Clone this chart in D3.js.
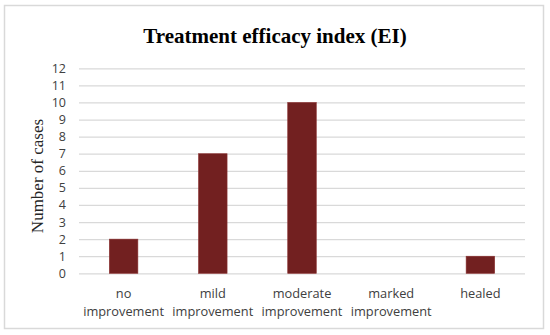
<!DOCTYPE html>
<html>
<head>
<meta charset="utf-8">
<script src="https://cdn.jsdelivr.net/npm/d3@7"></script>
<style>
  body { margin: 0; background: #fff; }
</style>
</head>
<body>
<div class="chart"></div>
<script>
// chart data
var categories = [["no", "improvement"], ["mild", "improvement"], ["moderate", "improvement"], ["marked", "improvement"], ["healed"]];
var cases = [2, 7, 10, 0, 1];
var yTicks = [0, 1, 2, 3, 4, 5, 6, 7, 8, 9, 10, 11, 12];

var width = 550;
var height = 335;
var plotLeft = 79, plotRight = 525, plotTop = 68.3, plotBottom = 273.3;

var svg = d3.select(".chart")
            .append("svg")
            .attr("width", width)
            .attr("height", height);

// outer frame
svg.append("rect")
   .attr("x", 4.5).attr("y", 5.5)
   .attr("width", 539).attr("height", 323)
   .attr("fill", "#fff")
   .attr("stroke", "#d9d9d9")
   .attr("stroke-width", 1.5);

var xScale = d3.scaleBand()
               .domain(d3.range(categories.length))
               .range([plotLeft, plotRight])
               .paddingInner(0.68)
               .paddingOuter(0.34);

var yScale = d3.scaleLinear()
               .domain([0, 12])
               .range([plotBottom, plotTop]);

// gridlines
svg.append("g")
   .attr("class", "grid")
   .attr("transform", "translate(" + plotLeft + ",0)")
   .call(d3.axisLeft(yScale).tickValues(yTicks).tickSize(-(plotRight - plotLeft)).tickFormat(""))
   .call(g => g.select(".domain").remove())
   .call(g => g.selectAll("line").attr("stroke", "#d9d9d9").attr("stroke-width", 1.2));

// y tick labels
svg.append("g")
   .attr("id", "y-axis")
   .attr("transform", "translate(" + (plotLeft - 13) + ",0)")
   .call(d3.axisLeft(yScale).tickValues(yTicks).tickSize(0).tickPadding(0))
   .call(g => g.select(".domain").remove())
   .call(g => g.selectAll("text")
               .attr("fill", "#404040")
               .style("font-family", "'Open Sans', sans-serif")
               .style("font-size", "12.5px"));

// bars
svg.selectAll("rect.bar")
   .data(cases)
   .enter()
   .append("rect")
   .attr("class", "bar")
   .attr("x", (d, i) => xScale(i))
   .attr("y", d => yScale(d))
   .attr("width", xScale.bandwidth())
   .attr("height", d => plotBottom - yScale(d))
   .attr("fill", "#722020")
   .attr("stroke", "#8a3030")
   .attr("stroke-width", 0.6);

// x category labels
var xLabels = svg.append("g").attr("id", "x-axis");
categories.forEach(function(lines, i) {
  var cx = xScale(i) + xScale.bandwidth() / 2;
  var t = xLabels.append("text")
     .attr("x", cx)
     .attr("y", 297.5)
     .attr("text-anchor", "middle")
     .attr("fill", "#404040")
     .style("font-family", "'Open Sans', sans-serif")
     .style("font-size", "12.8px");
  lines.forEach(function(s, j) {
    t.append("tspan")
     .attr("x", cx)
     .attr("dy", j === 0 ? 0 : 18.5)
     .text(s);
  });
});

// title
svg.append("text")
   .attr("x", 275)
   .attr("y", 42.7)
   .attr("text-anchor", "middle")
   .style("font-family", "'Liberation Serif', 'Times New Roman', serif")
   .style("font-weight", "bold")
   .style("font-size", "21px")
   .attr("fill", "#000")
   .text("Treatment efficacy index (EI)");

// y axis title
svg.append("text")
   .attr("transform", "translate(43,176) rotate(-90)")
   .attr("text-anchor", "middle")
   .style("font-family", "'Liberation Serif', 'Times New Roman', serif")
   .style("font-size", "17px")
   .attr("fill", "#262626")
   .text("Number of cases");
</script>
</body>
</html>
